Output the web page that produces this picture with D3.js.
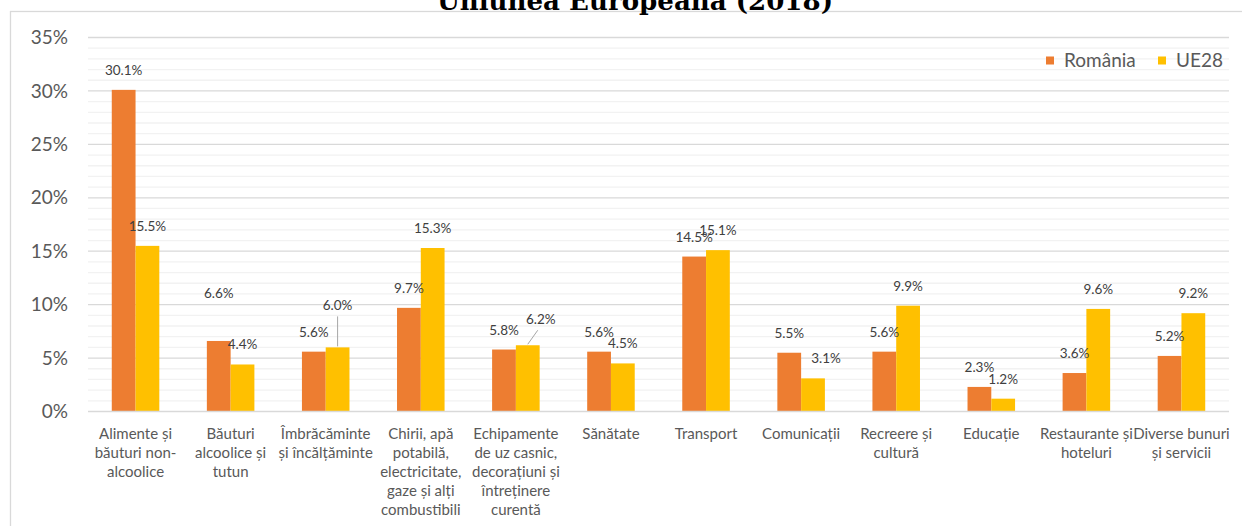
<!DOCTYPE html>
<html><head><meta charset="utf-8">
<script src="https://cdn.jsdelivr.net/npm/d3@7"></script>
<style>
html,body{margin:0;padding:0;background:#fff;}
svg{display:block;}
</style></head>
<body>
<script>
const categories = [
  ["Alimente și","băuturi non-","alcoolice"],
  ["Băuturi","alcoolice și","tutun"],
  ["Îmbrăcăminte","și încălțăminte"],
  ["Chirii, apă","potabilă,","electricitate,","gaze și alți","combustibili"],
  ["Echipamente","de uz casnic,","decorațiuni și","întreținere","curentă"],
  ["Sănătate"],
  ["Transport"],
  ["Comunicații"],
  ["Recreere și","cultură"],
  ["Educație"],
  ["Restaurante și","hoteluri"],
  ["Diverse bunuri","și servicii"]
];
const seriesNames = ["România","UE28"];
const romania = [30.1, 6.6, 5.6, 9.7, 5.8, 5.6, 14.5, 5.5, 5.6, 2.3, 3.6, 5.2];
const ue28    = [15.5, 4.4, 6.0, 15.3, 6.2, 4.5, 15.1, 3.1, 9.9, 1.2, 9.6, 9.2];
const yTicks  = [0, 5, 10, 15, 20, 25, 30, 35];
const titleText = "Uniunea Europeană (2018)";
const colors = ["#ED7D31", "#FFC000"];

// label nudges (pixels) for manually moved data labels, [dx, dy, leader]
const nudgeRo = {1: [0, -28, false]};
const nudgeUe = {2: [0, -22, true], 4: [13, -6, true], 7: [13, 0, false]};

const W = 1242, H = 526;
const svg = d3.select("body").append("svg").attr("width", W).attr("height", H);

// chart border
svg.append("rect").attr("x", 10.5).attr("y", 11.5).attr("width", 1400).attr("height", 700)
  .attr("fill", "none").attr("stroke", "#d9d9d9").attr("stroke-width", 1.3);

// title (only last line visible)
svg.append("text").attr("x", 635).attr("y", 9.5).attr("text-anchor", "middle")
  .attr("font-family", "DejaVu Serif").attr("font-weight", "bold").attr("font-size", 26)
  .attr("textLength", 396).attr("lengthAdjust", "spacingAndGlyphs")
  .attr("fill", "#000").text(titleText);

const x0 = d3.scaleBand().domain(d3.range(categories.length)).range([88, 1229]).padding(0);
const bw = x0.bandwidth();
const x1 = d3.scaleBand().domain(seriesNames).range([bw / 4, bw * 3 / 4]).padding(0);
const y = d3.scaleLinear().domain([0, 35]).range([411.5, 37.5]);

// gridlines
const g = svg.append("g");
g.selectAll("line.minor").data(d3.range(1, 36).filter(v => v % 5 !== 0)).join("line")
  .attr("x1", 88).attr("x2", 1229).attr("y1", d => y(d)).attr("y2", d => y(d))
  .attr("stroke", "#f2f2f2").attr("stroke-width", 1.3);
g.selectAll("line.major").data(yTicks.filter(v => v > 0)).join("line")
  .attr("x1", 88).attr("x2", 1229).attr("y1", d => y(d)).attr("y2", d => y(d))
  .attr("stroke", "#d9d9d9").attr("stroke-width", 1.3);

// y axis labels
const yAxis = d3.axisLeft(y).tickValues(yTicks).tickSize(0).tickPadding(20).tickFormat(d => d + "%");
const ya = svg.append("g").attr("transform", "translate(88,0)").call(yAxis);
ya.select(".domain").remove();
ya.selectAll("text").attr("font-family", "Lato").attr("font-size", 19).attr("fill", "#595959");

// bars
const seriesData = [romania, ue28];
seriesNames.forEach((name, si) => {
  svg.append("g").selectAll("rect").data(seriesData[si]).join("rect")
    .attr("x", (d, i) => x0(i) + x1(name))
    .attr("y", d => y(d))
    .attr("width", x1.bandwidth())
    .attr("height", d => y(0) - y(d))
    .attr("fill", colors[si]);
});

// x axis line
svg.append("line").attr("x1", 88).attr("x2", 1229).attr("y1", y(0)).attr("y2", y(0))
  .attr("stroke", "#d9d9d9").attr("stroke-width", 1.6);

// data labels
const nudges = [nudgeRo, nudgeUe];
seriesNames.forEach((name, si) => {
  const lg = svg.append("g");
  seriesData[si].forEach((v, i) => {
    const cx = x0(i) + x1(name) + x1.bandwidth() / 2;
    const top = y(v);
    const n = nudges[si][i] || [0, 0, false];
    const lx = cx + n[0], ly = top - 15 + n[1];
    if (n[2]) {
      lg.append("line").attr("x1", cx).attr("y1", top - 1)
        .attr("x2", n[0] ? cx + n[0] - 3 : cx).attr("y2", ly + 6)
        .attr("stroke", "#a6a6a6").attr("stroke-width", 1);
    }
    lg.append("text").attr("x", lx).attr("y", ly).attr("text-anchor", "middle")
      .attr("font-family", "Lato").attr("font-size", 13.5).attr("fill", "#404040")
      .text(v.toFixed(1) + "%");
  });
});

// category labels
const xl = svg.append("g");
categories.forEach((lines, i) => {
  const t = xl.append("text").attr("text-anchor", "middle")
    .attr("font-family", "Lato").attr("font-size", 15).attr("fill", "#595959");
  lines.forEach((ln, k) => {
    t.append("tspan").attr("x", x0(i) + bw / 2).attr("y", 439 + k * 19.1).text(ln);
  });
});

// legend
const legend = svg.append("g");
const legX = [1046, 1158];
seriesNames.forEach((name, si) => {
  legend.append("rect").attr("x", legX[si]).attr("y", 56.5).attr("width", 8).attr("height", 8).attr("fill", colors[si]);
  legend.append("text").attr("x", legX[si] + 18).attr("y", 67).attr("font-family", "Lato")
    .attr("font-size", 19).attr("fill", "#595959").text(name);
});
</script>
</body></html>
